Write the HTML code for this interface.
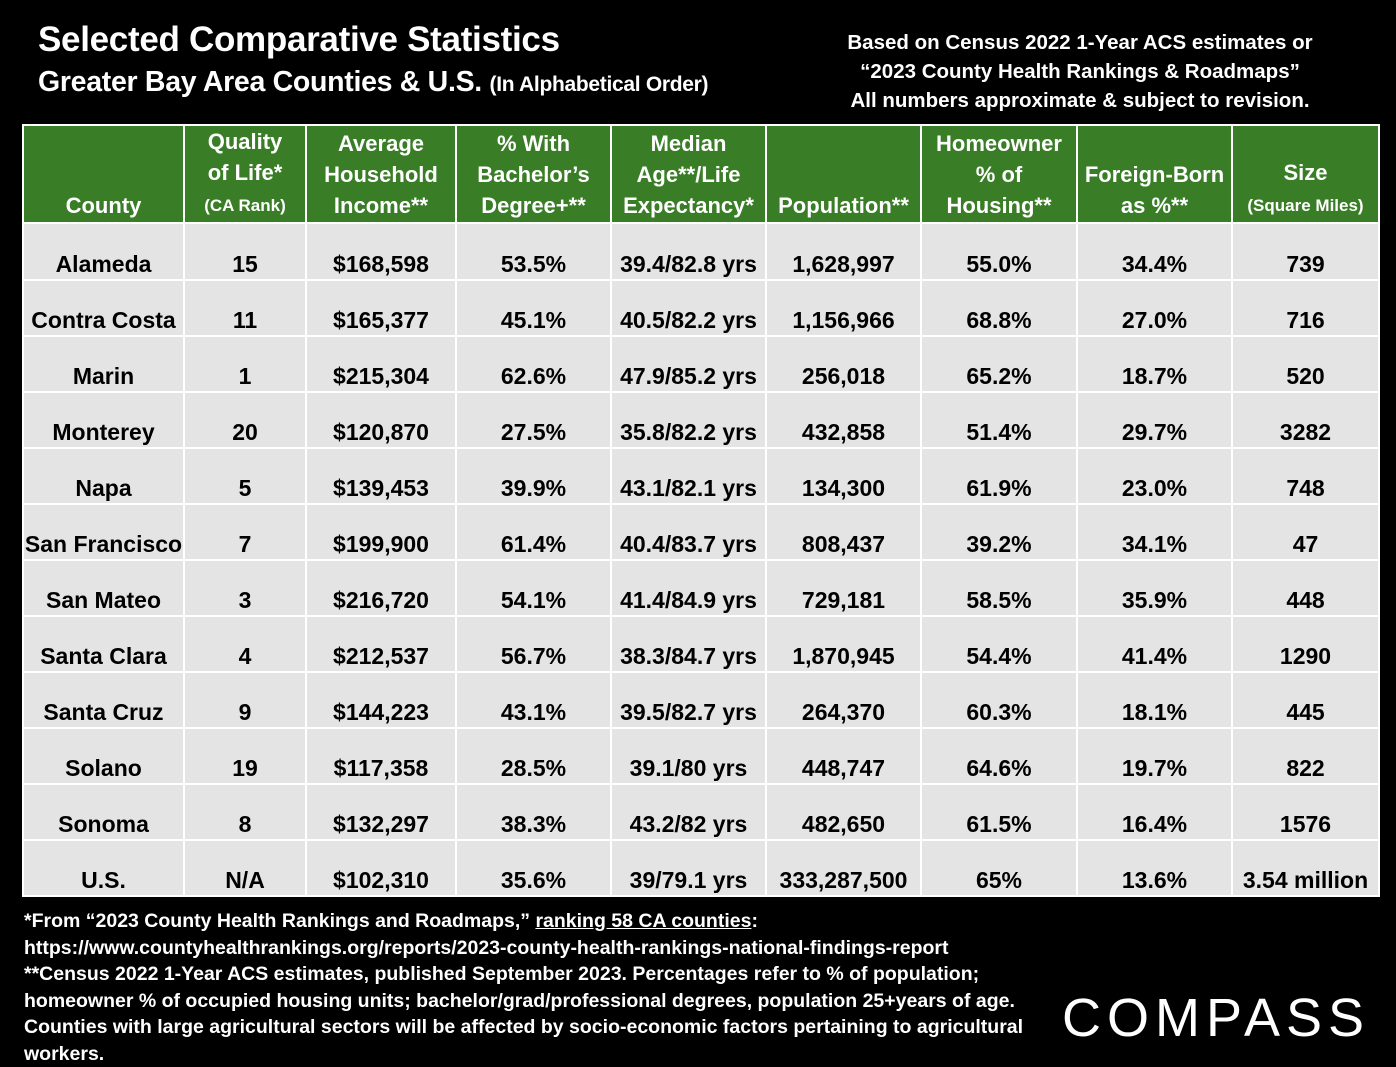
<!DOCTYPE html>
<html><head><meta charset="utf-8">
<style>
body{margin:0;width:1396px;height:1066px;background:#000;overflow:hidden;font-family:"Liberation Sans",sans-serif;color:#fff;position:relative}
.abs{position:absolute}
#title{left:38px;top:20px;font-size:35px;font-weight:bold;letter-spacing:-0.3px}
#sub{left:38px;top:66px;font-size:28.5px;font-weight:bold;letter-spacing:-0.3px}
#sub span{font-size:21px}
#src{left:795px;top:28px;width:570px;text-align:center;font-size:20.5px;font-weight:bold;line-height:29px}
table{position:absolute;left:22px;top:124px;border-collapse:collapse;table-layout:fixed}
td,th{border:2px solid #fff;text-align:center;font-weight:bold;padding:0;white-space:nowrap}
th{background:#3a7d27;color:#fff;font-size:22px;line-height:31px;vertical-align:bottom;height:95px;padding-bottom:1px}
th small{font-size:17px}
td{background:#e4e4e4;color:#000;font-size:23px;height:52px;line-height:26px;vertical-align:bottom;padding-bottom:2px}
tr.first td{height:53px}
#foot{left:24px;top:908px;font-size:19.5px;font-weight:bold;line-height:26.5px;white-space:nowrap}
#logo{left:1062px;top:987px;font-size:54px;letter-spacing:6px;font-weight:normal}
</style></head><body>
<div id="title" class="abs">Selected Comparative Statistics</div>
<div id="sub" class="abs">Greater Bay Area Counties &amp; U.S. <span>(In Alphabetical Order)</span></div>
<div id="src" class="abs">Based on Census 2022 1-Year ACS estimates or<br>“2023 County Health Rankings &amp; Roadmaps”<br>All numbers approximate &amp; subject to revision.</div>
<table>
<colgroup><col style="width:161px"><col style="width:122px"><col style="width:150px"><col style="width:155px"><col style="width:155px"><col style="width:155px"><col style="width:156px"><col style="width:155px"><col style="width:147px"></colgroup>
<tr>
<th>County</th>
<th>Quality<br>of Life*<br><small>(CA Rank)</small></th>
<th>Average<br>Household<br>Income**</th>
<th>% With<br>Bachelor’s<br>Degree+**</th>
<th>Median<br>Age**/Life<br>Expectancy*</th>
<th>Population**</th>
<th>Homeowner<br>% of<br>Housing**</th>
<th>Foreign-Born<br>as %**</th>
<th>Size<br><small>(Square Miles)</small></th>
</tr>
<tr class="first"><td>Alameda</td><td>15</td><td>$168,598</td><td>53.5%</td><td>39.4/82.8 yrs</td><td>1,628,997</td><td>55.0%</td><td>34.4%</td><td>739</td></tr>
<tr><td>Contra Costa</td><td>11</td><td>$165,377</td><td>45.1%</td><td>40.5/82.2 yrs</td><td>1,156,966</td><td>68.8%</td><td>27.0%</td><td>716</td></tr>
<tr><td>Marin</td><td>1</td><td>$215,304</td><td>62.6%</td><td>47.9/85.2 yrs</td><td>256,018</td><td>65.2%</td><td>18.7%</td><td>520</td></tr>
<tr><td>Monterey</td><td>20</td><td>$120,870</td><td>27.5%</td><td>35.8/82.2 yrs</td><td>432,858</td><td>51.4%</td><td>29.7%</td><td>3282</td></tr>
<tr><td>Napa</td><td>5</td><td>$139,453</td><td>39.9%</td><td>43.1/82.1 yrs</td><td>134,300</td><td>61.9%</td><td>23.0%</td><td>748</td></tr>
<tr><td>San Francisco</td><td>7</td><td>$199,900</td><td>61.4%</td><td>40.4/83.7 yrs</td><td>808,437</td><td>39.2%</td><td>34.1%</td><td>47</td></tr>
<tr><td>San Mateo</td><td>3</td><td>$216,720</td><td>54.1%</td><td>41.4/84.9 yrs</td><td>729,181</td><td>58.5%</td><td>35.9%</td><td>448</td></tr>
<tr><td>Santa Clara</td><td>4</td><td>$212,537</td><td>56.7%</td><td>38.3/84.7 yrs</td><td>1,870,945</td><td>54.4%</td><td>41.4%</td><td>1290</td></tr>
<tr><td>Santa Cruz</td><td>9</td><td>$144,223</td><td>43.1%</td><td>39.5/82.7 yrs</td><td>264,370</td><td>60.3%</td><td>18.1%</td><td>445</td></tr>
<tr><td>Solano</td><td>19</td><td>$117,358</td><td>28.5%</td><td>39.1/80 yrs</td><td>448,747</td><td>64.6%</td><td>19.7%</td><td>822</td></tr>
<tr><td>Sonoma</td><td>8</td><td>$132,297</td><td>38.3%</td><td>43.2/82 yrs</td><td>482,650</td><td>61.5%</td><td>16.4%</td><td>1576</td></tr>
<tr><td>U.S.</td><td>N/A</td><td>$102,310</td><td>35.6%</td><td>39/79.1 yrs</td><td>333,287,500</td><td>65%</td><td>13.6%</td><td>3.54 million</td></tr>
</table>
<div id="foot" class="abs">*From “2023 County Health Rankings and Roadmaps,” <u>ranking 58 CA counties</u>:<br>https://www.countyhealthrankings.org/reports/2023-county-health-rankings-national-findings-report<br>**Census 2022 1-Year ACS estimates, published September 2023. Percentages refer to % of population;<br>homeowner % of occupied housing units; bachelor/grad/professional degrees, population 25+years of age.<br>Counties with large agricultural sectors will be affected by socio-economic factors pertaining to agricultural<br>workers.</div>
<div id="logo" class="abs">COMPASS</div>
</body></html>
